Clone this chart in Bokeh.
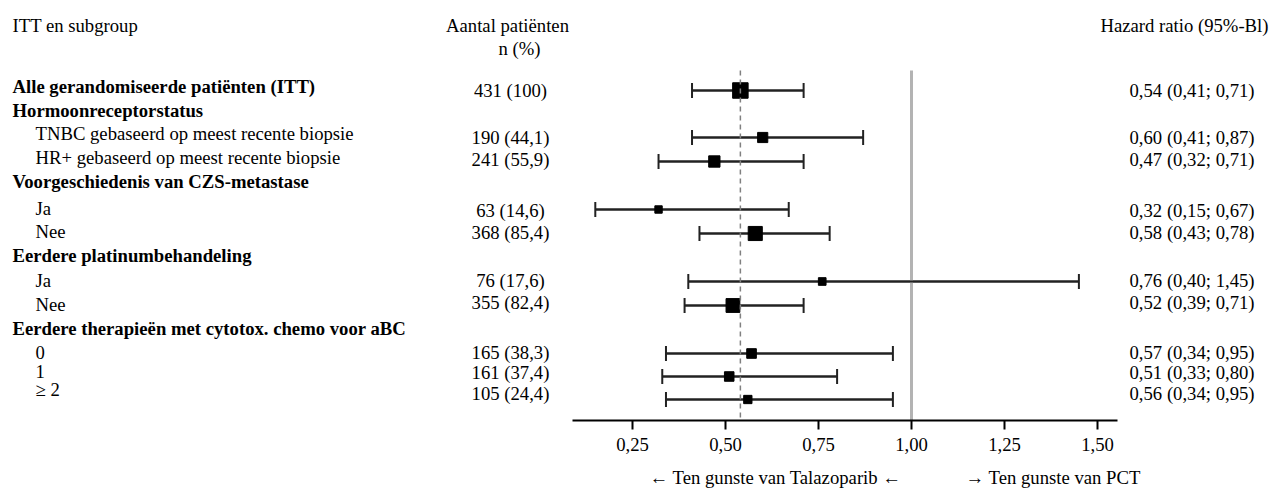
from bokeh.plotting import figure
from bokeh.layouts import column
from bokeh.models import (ColumnDataSource, Range1d, LinearAxis, FixedTicker,
                          Whisker, TeeHead)
from bokeh.core.properties import value
from bokeh.embed import file_html
from bokeh.resources import INLINE

# ---------------- data ----------------
subgroups = ["Alle gerandomiseerde patiënten (ITT)",
             "TNBC gebaseerd op meest recente biopsie",
             "HR+ gebaseerd op meest recente biopsie",
             "Ja", "Nee", "Ja", "Nee", "0", "1", "≥ 2"]
group_headers = ["Hormoonreceptorstatus",
                 "Voorgeschiedenis van CZS-metastase",
                 "Eerdere platinumbehandeling",
                 "Eerdere therapieën met cytotox. chemo voor aBC"]
n_patients = [431, 190, 241, 63, 368, 76, 355, 165, 161, 105]
pct_patients = ["100", "44,1", "55,9", "14,6", "85,4", "17,6", "82,4", "38,3", "37,4", "24,4"]
hazard_ratio = [0.54, 0.60, 0.47, 0.32, 0.58, 0.76, 0.52, 0.57, 0.51, 0.56]
ci_low = [0.41, 0.41, 0.32, 0.15, 0.43, 0.40, 0.39, 0.34, 0.33, 0.34]
ci_high = [0.71, 0.87, 0.71, 0.67, 0.78, 1.45, 0.71, 0.95, 0.80, 0.95]
tick_values = [0.25, 0.50, 0.75, 1.00, 1.25, 1.50]
favour_labels = ["← Ten gunste van Talazoparib ←", "→ Ten gunste van PCT"]
overall_hr = hazard_ratio[0]

# ---------------- layout ----------------
W, H = 1270, 490
FRAME_H = 420
AXIS_H = 40
X0 = 539.0      # pixel of HR = 0
PPU = 372.0     # pixels per HR unit
def X(px):
    return (px - X0) / PPU

FONT_NAME = "Liberation Serif, Times New Roman, serif"
FONT = value(FONT_NAME)
FS = "18.7px"

# row positions (pixels from top)
mark_y = [90, 137, 161, 209, 233, 281, 305, 353, 376, 399]
num_y = [90, 137, 159, 210, 232, 280, 302, 352, 372, 393]
sub_label_y = [86, 133, 157, 208, 231, 280, 304, 352, 371, 389]
sub_label_x = [12, 35, 35, 35, 35, 35, 35, 35, 35, 35]
sub_label_style = ["bold"] + ["normal"] * 9
header_y = [110, 181, 255, 328]

def fmt(v):
    return f"{v:.2f}".replace(".", ",")

xr = Range1d(X(0), X(W))
p = figure(width=W, height=FRAME_H + AXIS_H, output_backend="svg", toolbar_location=None,
           x_range=xr, y_range=Range1d(FRAME_H, 0),
           x_axis_type=None, y_axis_type=None,
           min_border_left=0, min_border_right=0, min_border_top=0,
           min_border_bottom=AXIS_H)
p.outline_line_color = None
p.xgrid.visible = False
p.ygrid.visible = False
p.background_fill_color = "white"
p.border_fill_color = "white"

# reference line at HR = 1
p.segment(x0=[1.0], y0=[70], x1=[1.0], y1=[FRAME_H], line_color="#b3b3b3", line_width=3)

src = ColumnDataSource(dict(
    y=mark_y, hr=hazard_ratio, lo=ci_low, hi=ci_high,
    size=[6 + 0.022 * n for n in n_patients]))

p.segment(x0="lo", y0="y", x1="hi", y1="y", source=src, line_color="#222222", line_width=2)
wh = Whisker(base="y", lower="lo", upper="hi", dimension="width", source=src,
             line_color="#222222", line_width=2,
             lower_head=TeeHead(size=15, line_width=2, line_color="#222222"),
             upper_head=TeeHead(size=15, line_width=2, line_color="#222222"))
p.add_layout(wh)
p.scatter(x="hr", y="y", size="size", marker="square", source=src,
          fill_color="black", line_color="black")

p.segment(x0=[overall_hr], y0=[70], x1=[overall_hr], y1=[FRAME_H],
          line_color="#808080", line_width=1.5, line_dash="5 4")

# left labels
p.text(x=[X(px) for px in sub_label_x], y=sub_label_y, text=subgroups,
       text_font=FONT, text_font_size=FS, text_baseline="middle", text_align="left",
       text_font_style=sub_label_style, text_color="black")
p.text(x=[X(12)] * len(group_headers), y=header_y, text=group_headers,
       text_font=FONT, text_font_size=FS, text_baseline="middle", text_align="left",
       text_font_style="bold", text_color="black")
p.text(x=[X(12)], y=[25], text=["ITT en subgroup"],
       text_font=FONT, text_font_size=FS, text_baseline="middle", text_align="left",
       text_color="black")

# middle column
p.text(x=[X(507), X(519)], y=[25, 48], text=["Aantal patiënten", "n (%)"],
       text_font=FONT, text_font_size=FS, text_baseline="middle", text_align="center",
       text_color="black")
p.text(x=[X(510)] * len(n_patients), y=num_y,
       text=[f"{n} ({pc})" for n, pc in zip(n_patients, pct_patients)],
       text_font=FONT, text_font_size=FS, text_baseline="middle", text_align="center",
       text_color="black")

# right column
p.text(x=[X(1268)], y=[25], text=["Hazard ratio (95%-Bl)"],
       text_font=FONT, text_font_size=FS, text_baseline="middle", text_align="right",
       text_color="black")
p.text(x=[X(1129)] * len(hazard_ratio), y=num_y,
       text=[f"{fmt(h)} ({fmt(l)}; {fmt(u)})" for h, l, u in zip(hazard_ratio, ci_low, ci_high)],
       text_font=FONT, text_font_size=FS, text_baseline="middle", text_align="left",
       text_color="black")

# axis
ax = LinearAxis(ticker=FixedTicker(ticks=tick_values), bounds=(0.09, 1.555),
                major_label_overrides={t: fmt(t) for t in tick_values})
ax.axis_line_width = 2
ax.axis_line_color = "black"
ax.major_tick_line_width = 2
ax.major_tick_line_color = "black"
ax.major_tick_out = 9
ax.major_tick_in = 0
ax.minor_tick_line_color = None
ax.major_label_standoff = 8
ax.major_label_text_font = FONT_NAME
ax.major_label_text_font_size = FS
ax.major_label_text_color = "black"
p.add_layout(ax, "below")

# favour labels (strip below the axis)
BOT_H = H - FRAME_H - AXIS_H
p2 = figure(width=W, height=BOT_H, output_backend="svg", toolbar_location=None,
            x_range=xr, y_range=Range1d(BOT_H, 0),
            x_axis_type=None, y_axis_type=None,
            min_border_left=0, min_border_right=0, min_border_top=0, min_border_bottom=0)
p2.outline_line_color = None
p2.xgrid.visible = False
p2.ygrid.visible = False
p2.text(x=[X(649), X(965)], y=[17, 17], text=favour_labels,
        text_font=FONT, text_font_size=FS, text_baseline="middle", text_align="left",
        text_color="black")

layout = column(p, p2, spacing=0)
open("out.html", "w").write(file_html(layout, INLINE))
